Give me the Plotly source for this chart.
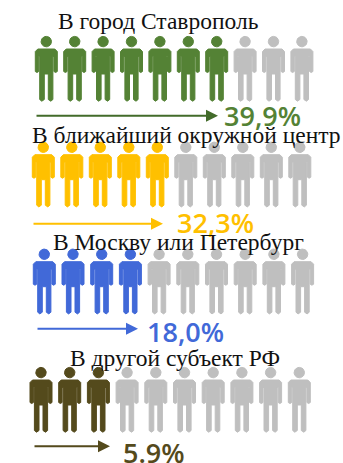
import numpy as np
import plotly.graph_objects as go

categories = ["В город Ставрополь", "В ближайший окружной центр", "В Москву или Петербург", "В другой субъект РФ"]
percent_labels = ["39,9%", "32,3%", "18,0%", "5.9%"]
percent_values = [39.9, 32.3, 18.0, 5.9]
filled_people = [7, 5, 4, 3]
total_people = 10

# layout (pixel scale)
W, H = 343, 463
colors = ["#548235", "#FFC000", "#4169D8", "#544A1C"]
arrow_colors = ["#426B2A", "#FFC000", "#4169D8", "#544A1C"]
GREY = "#BFBFBF"
row_x0 = [46.3, 43.3, 44.3, 41.0]
row_dx = [28.4, 28.5, 28.7, 28.7]
row_top = [36.0, 141.7, 248.7, 367.0]
arrow_x = [(35, 218), (32, 163), (36, 138), (33, 110)]
arrow_y = [115.7, 223.7, 328.7, 446.3]
title_x = [56, 30, 51, 68]
title_y = [21, 135, 242, 358]
pct_x = [222, 175, 145, 121]
pct_y = [115, 222, 331, 452]
PCT_FONT = 27
TITLE_FONT = 23.5

t = np.linspace(0, 2 * np.pi, 25)
HEAD = list(zip(5.2 * np.cos(t), 5.6 + 5.2 * np.sin(t)))
BODY = [(-8.5, 13), (8.5, 13), (11, 15.5), (11, 35.5), (9.3, 36.5), (7.6, 35.5), (7.6, 20.5), (6.6, 20.5),
        (6.6, 63.5), (4.5, 65.2), (2.0, 63.5), (2.0, 38), (-2.0, 38), (-2.0, 63.5), (-4.5, 65.2), (-6.6, 63.5),
        (-6.6, 20.5), (-7.6, 20.5), (-7.6, 35.5), (-9.3, 36.5), (-11, 35.5), (-11, 15.5)]


def people(cx_list, top):
    xs, ys = [], []
    for cx in cx_list:
        for poly in (HEAD, BODY):
            xs += [cx + p[0] for p in poly] + [cx + poly[0][0], None]
            ys += [top + p[1] for p in poly] + [top + poly[0][1], None]
    return xs, ys


fig = go.Figure()
annotations = []
for i, cat in enumerate(categories):
    centers = [row_x0[i] + k * row_dx[i] for k in range(total_people)]
    for subset, col in ((centers[:filled_people[i]], colors[i]), (centers[filled_people[i]:], GREY)):
        xs, ys = people(subset, row_top[i])
        fig.add_trace(go.Scatter(x=xs, y=ys, mode="lines", fill="toself", fillcolor=col,
                                 line=dict(color=col, width=1), hoverinfo="skip", showlegend=False))
    annotations.append(dict(x=arrow_x[i][1], y=arrow_y[i], ax=arrow_x[i][0], ay=arrow_y[i],
                            xref="x", yref="y", axref="x", ayref="y", text="", showarrow=True,
                            arrowhead=2, arrowsize=1.2, arrowwidth=2, arrowcolor=arrow_colors[i]))
    annotations.append(dict(x=title_x[i], y=title_y[i], xref="x", yref="y", text=cat, showarrow=False,
                            xanchor="left", yanchor="middle",
                            font=dict(family="Liberation Serif", size=TITLE_FONT, color="#111111")))
    annotations.append(dict(x=pct_x[i], y=pct_y[i], xref="x", yref="y", text=percent_labels[i],
                            showarrow=False, xanchor="left", yanchor="middle",
                            font=dict(family="Open Sans", size=PCT_FONT, color=colors[i], weight=600)))

fig.update_layout(width=W, height=H, margin=dict(l=0, r=0, t=0, b=0), paper_bgcolor="white",
                  plot_bgcolor="white", showlegend=False, annotations=annotations,
                  xaxis=dict(range=[0, W], visible=False, fixedrange=True),
                  yaxis=dict(range=[H, 0], visible=False, fixedrange=True))
fig.write_html("out.html", config={"displayModeBar": False},
               post_script="document.body.style.margin='0';document.body.style.overflow='hidden';")
